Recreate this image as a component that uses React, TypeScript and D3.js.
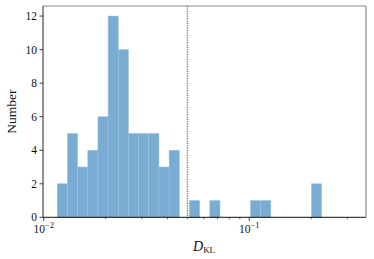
import * as d3 from "d3";

// histogram counts per log-spaced bin
const counts = [2, 5, 3, 4, 6, 12, 10, 5, 5, 5, 3, 4, 0, 1, 0, 1, 0, 0, 0, 1, 1, 0, 0, 0, 0, 2];
const binMin = 0.011641; // left edge of first bin
const binMax = 0.22488; // right edge of last bin
const yTicks = [0, 2, 4, 6, 8, 10, 12];
const xMajor = [-2, -1]; // exponents
const xMinor = [0.02, 0.03, 0.04, 0.05, 0.06, 0.07, 0.08, 0.09, 0.2, 0.3];
const threshold = 0.05;

const W = 374;
const H = 259;
const m = { left: 43, right: 366, top: 6, bottom: 217.3 };
const font = "'Liberation Serif', 'DejaVu Serif', serif";

function App() {
  const x = d3.scaleLog().domain([Math.pow(10, -2.0034), Math.pow(10, -0.4324)]).range([m.left, m.right]);
  const y = d3.scaleLinear().domain([0, 12.6]).range([m.bottom, m.top]);

  const lo = Math.log10(binMin);
  const step = (Math.log10(binMax) - lo) / counts.length;
  const bins = counts.map((c, i) => ({
    x0: Math.pow(10, lo + i * step),
    x1: Math.pow(10, lo + (i + 1) * step),
    c,
  }));

  return (
    <svg width={W} height={H} style={{ position: "absolute", left: 0, top: 0, background: "#fff" }}>
      {bins.filter(b => b.c > 0).map((b, i) => (
        <rect
          key={i}
          x={x(b.x0)}
          y={y(b.c)}
          width={x(b.x1) - x(b.x0)}
          height={y(0) - y(b.c)}
          fill="#78acd3"
          stroke="#9cc3e0"
          strokeWidth={0.5}
        />
      ))}
      <line x1={x(threshold)} x2={x(threshold)} y1={m.top} y2={m.bottom} stroke="#666" strokeWidth={1.2} strokeDasharray="1.2 1.2" />

      {/* spines */}
      <line x1={m.left} x2={m.right} y1={m.top} y2={m.top} stroke="#888" strokeWidth={1.2} />
      <line x1={m.right} x2={m.right} y1={m.top} y2={m.bottom} stroke="#888" strokeWidth={1.2} />
      <line x1={m.left} x2={m.left} y1={m.top} y2={m.bottom} stroke="#222" strokeWidth={1} />
      <line x1={m.left} x2={m.right} y1={m.bottom} y2={m.bottom} stroke="#111" strokeWidth={1} />

      {/* y axis */}
      {yTicks.map(t => (
        <g key={t}>
          <line x1={m.left - 3.5} x2={m.left} y1={y(t)} y2={y(t)} stroke="#111" strokeWidth={0.8} />
          <text x={m.left - 6} y={y(t) + 4} textAnchor="end" fontFamily={font} fontSize={11.5} fill="#111">{t}</text>
        </g>
      ))}
      <text transform={`translate(16,${(m.top + m.bottom) / 2}) rotate(-90)`} textAnchor="middle" fontFamily={font} fontSize={13.5} fill="#111">Number</text>

      {/* x axis */}
      {xMajor.map(e => {
        const px = x(Math.pow(10, e));
        return (
          <g key={e}>
            <line x1={px} x2={px} y1={m.bottom} y2={m.bottom + 3.5} stroke="#111" strokeWidth={0.8} />
            <text x={px} y={m.bottom + 15.5} textAnchor="middle" fontFamily={font} fontSize={11.5} fill="#111">
              10<tspan dy={-5} fontSize={8.5}>{"\u2212" + Math.abs(e)}</tspan>
            </text>
          </g>
        );
      })}
      {xMinor.map(v => (
        <line key={v} x1={x(v)} x2={x(v)} y1={m.bottom} y2={m.bottom + 2} stroke="#111" strokeWidth={0.6} />
      ))}
      <text x={193} y={251} fontFamily={font} fontSize={14} fill="#111">
        <tspan fontStyle="italic">D</tspan>
        <tspan dy={2} fontSize={9}>KL</tspan>
      </text>
    </svg>
  );
}

export default App;
